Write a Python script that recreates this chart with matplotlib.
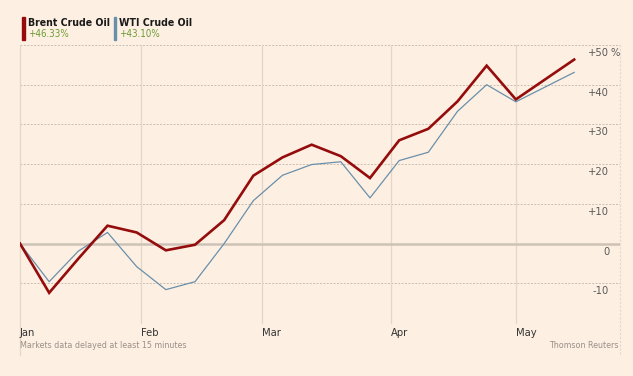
import matplotlib
matplotlib.use("Agg")
import matplotlib.pyplot as plt
import matplotlib.transforms as mtransforms
import pandas as pd

# weekly closes, % change since first week
dates = ["2016-01-03", "2016-01-10", "2016-01-17", "2016-01-24", "2016-01-31",
         "2016-02-07", "2016-02-14", "2016-02-21", "2016-02-28", "2016-03-06",
         "2016-03-13", "2016-03-20", "2016-03-27", "2016-04-03", "2016-04-10",
         "2016-04-17", "2016-04-24", "2016-05-01", "2016-05-15"]
brent = [0, -12.4, -3.8, 4.5, 2.8, -1.7, -0.3, 5.9, 17.1, 21.7, 24.9, 22.0,
         16.5, 26.0, 28.9, 35.8, 44.8, 36.3, 46.33]
wti = [0, -9.6, -1.9, 2.8, -5.8, -11.6, -9.6, 0.0, 10.8, 17.2, 19.9, 20.6,
       11.5, 20.9, 23.0, 33.3, 40.0, 35.7, 43.10]

month_ticks = ["2016-01-03", "2016-02-01", "2016-03-01", "2016-04-01", "2016-05-01"]
month_labels = ["Jan", "Feb", "Mar", "Apr", "May"]
y_ticks = [50, 40, 30, 20, 10, 0, -10]
y_labels = ["+50", "+40", "+30", "+20", "+10", "0", "-10"]

bg = "#fdf0e2"
red = "#940c0c"
blue = "#6a8fab"
font = ["DejaVu Sans"]
cond = "condensed"

x = pd.to_datetime(dates)
xm = pd.to_datetime(month_ticks)
x0 = pd.Timestamp("2016-01-03")
x1 = pd.Timestamp("2016-05-26")

fig = plt.figure(figsize=(6.33, 3.76), dpi=100, facecolor=bg)
ax = fig.add_axes([20 / 633, 53 / 376, 600 / 633, 278 / 376])
ax.set_facecolor(bg)
ax.set_xlim(x0, x1)
ax.set_ylim(-20, 50)
for s in ax.spines.values():
    s.set_visible(False)
ax.set_xticks([])
ax.set_yticks([])

# grid
for v in [50, 40, 30, 20, 10, -10, -20]:
    ax.axhline(v, color="#c9beb2", lw=0.7, ls=(0, (2, 1.5)), zorder=1)
for i, m in enumerate(xm):
    lo = -0.115 if i == 0 else 0
    ax.axvline(m, ymin=lo, ymax=1, color="#e3d7c9", lw=0.9, zorder=1, clip_on=False)
ax.axvline(x1, ymin=-0.11, ymax=1, color="#e3d7c9", lw=0.8, ls=(0, (2, 1.5)), zorder=1, clip_on=False)
ax.axhline(0, color="#cdc2b6", lw=1.8, zorder=2)

ax.plot(x, wti, color=blue, lw=0.9, zorder=3)
ax.plot(x, brent, color=red, lw=1.9, zorder=4, solid_joinstyle="miter")

# y labels, inside on the right
tr = mtransforms.blended_transform_factory(ax.transAxes, ax.transData)
off = mtransforms.offset_copy(tr, fig=fig, x=0, y=-8, units="dots")
for v, lab in zip(y_ticks, y_labels):
    ax.text(0.982, v, lab, transform=off, ha="right", va="center",
            fontsize=8, color="#5a5a5a", family=font, fontstretch=cond)
ax.text(0.984, 50, "%", transform=off, ha="left", va="center",
        fontsize=8, color="#5a5a5a", family=font, fontstretch=cond)

# month labels
trx = mtransforms.blended_transform_factory(ax.transData, ax.transAxes)
for m, lab in zip(xm, month_labels):
    ax.text(m, -0.036, lab, transform=trx, ha="left", va="center",
            fontsize=8, color="#333333", family=font, fontstretch=cond)

fig.text(20 / 633, 1 - 345 / 376, "Markets data delayed at least 15 minutes",
         ha="left", va="center", fontsize=6.4, color="#999089", family=font, fontstretch=cond)
fig.text(619 / 633, 1 - 345 / 376, "Thomson Reuters",
         ha="right", va="center", fontsize=6.4, color="#999089", family=font, fontstretch=cond)

# legend at the top
fig.patches.append(plt.Rectangle((21.5 / 633, 1 - 40 / 376), 3 / 633, 23 / 376,
                                 transform=fig.transFigure, color=red))
fig.patches.append(plt.Rectangle((114 / 633, 1 - 40 / 376), 2 / 633, 23 / 376,
                                 transform=fig.transFigure, color=blue))
fig.text(28 / 633, 1 - 23 / 376, "Brent Crude Oil", ha="left", va="center",
         fontsize=7.6, fontweight="bold", color="#1a1a1a", family=font, fontstretch=cond)
fig.text(28 / 633, 1 - 34 / 376, "+46.33%", ha="left", va="center",
         fontsize=7, color="#6b9a33", family=font, fontstretch=cond)
fig.text(119 / 633, 1 - 23 / 376, "WTI Crude Oil", ha="left", va="center",
         fontsize=7.6, fontweight="bold", color="#1a1a1a", family=font, fontstretch=cond)
fig.text(119 / 633, 1 - 34 / 376, "+43.10%", ha="left", va="center",
         fontsize=7, color="#6b9a33", family=font, fontstretch=cond)

fig.savefig("out.png", dpi=100, facecolor=bg)
